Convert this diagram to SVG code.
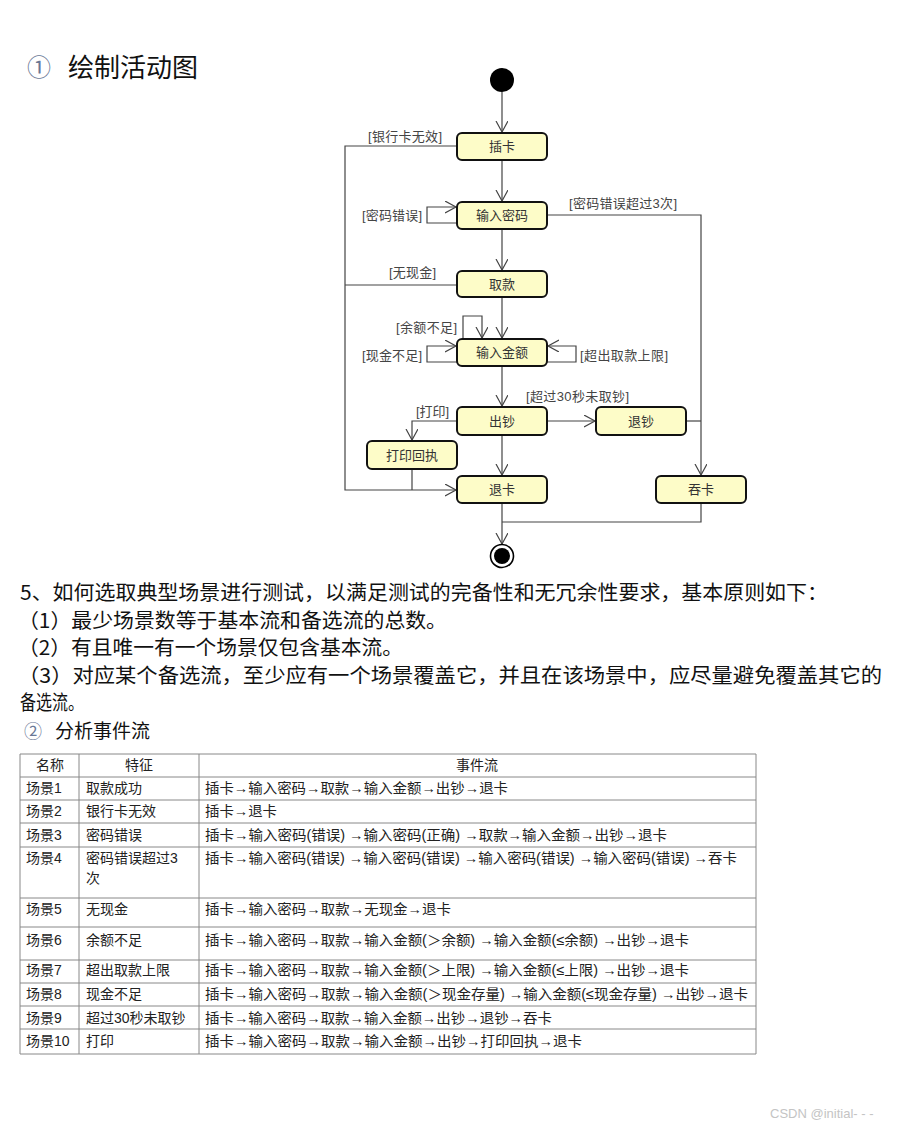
<svg xmlns="http://www.w3.org/2000/svg" width="904" height="1130" viewBox="0 0 904 1130">
<style>
.bg{fill:#ffffff}
.node rect{fill:#fdfcc8;stroke:#111;stroke-width:2}
.nt{font-family:"Liberation Sans","Noto Sans CJK SC",sans-serif;font-size:13px;fill:#333;text-anchor:middle}
.lb{font-family:"Liberation Sans","Noto Sans CJK SC",sans-serif;font-size:13px;fill:#444}
.conn path{fill:none;stroke:#444;stroke-width:1.2}
.para{font-family:"Noto Sans CJK SC",sans-serif;font-size:20px;fill:#111}
.tb{font-family:"Liberation Sans","Noto Sans CJK SC",sans-serif;font-size:14px;fill:#222}
.grid line{stroke:#888;stroke-width:1}
</style>
<defs>
<marker id="arr" markerUnits="userSpaceOnUse" markerWidth="14" markerHeight="14" refX="11" refY="6" orient="auto">
<path d="M0,0 L11,6 L0,12" fill="none" stroke="#444" stroke-width="1.2"/>
</marker>
</defs>
<rect class="bg" x="0" y="0" width="904" height="1130"/>

<g id="title">
<text x="27" y="76" font-family="Noto Sans CJK SC,sans-serif" font-size="24" fill="#6a7896">①</text>
<text x="68" y="77" font-family="Noto Sans CJK SC,sans-serif" font-size="26" fill="#111">绘制活动图</text>
</g>

<g id="connectors" class="conn">
<path d="M502,92 L502,132" marker-end="url(#arr)"/>
<path d="M502,160 L502,201" marker-end="url(#arr)"/>
<path d="M502,229 L502,270" marker-end="url(#arr)"/>
<path d="M502,297 L502,338" marker-end="url(#arr)"/>
<path d="M502,366 L502,406" marker-end="url(#arr)"/>
<path d="M502,435 L502,475" marker-end="url(#arr)"/>
<path d="M502,503 L502,544" marker-end="url(#arr)"/>
<path d="M457,146 L345,146 L345,490 L456,490" marker-end="url(#arr)"/>
<path d="M457,285 L345,285"/>
<path d="M457,223 L427,223 L427,207 L456,207" marker-end="url(#arr)"/>
<path d="M547,215 L701,215 L701,475" marker-end="url(#arr)"/>
<path d="M686,421 L701,421"/>
<path d="M701,503 L701,522 L502,522"/>
<path d="M463,339 L463,316 L482,316 L482,338" marker-end="url(#arr)"/>
<path d="M457,362 L427,362 L427,346 L456,346" marker-end="url(#arr)"/>
<path d="M547,362 L576,362 L576,346 L548,346" marker-end="url(#arr)"/>
<path d="M547,421 L595,421" marker-end="url(#arr)"/>
<path d="M457,421 L412,421 L412,440" marker-end="url(#arr)"/>
<path d="M412,469 L412,490"/>
</g>

<g id="labels">
<text class="lb" x="368" y="141" textLength="74">[银行卡无效]</text>
<text class="lb" x="362" y="220" textLength="60">[密码错误]</text>
<text class="lb" x="569" y="208" textLength="108">[密码错误超过3次]</text>
<text class="lb" x="389" y="277" textLength="47">[无现金]</text>
<text class="lb" x="396" y="332" textLength="61">[余额不足]</text>
<text class="lb" x="362" y="360" textLength="60">[现金不足]</text>
<text class="lb" x="580" y="360" textLength="88">[超出取款上限]</text>
<text class="lb" x="526" y="401" textLength="103">[超过30秒未取钞]</text>
<text class="lb" x="416" y="416" textLength="33">[打印]</text>
</g>

<g id="start"><circle cx="502" cy="80" r="12" fill="#000"/></g>
<g id="n-insert" class="node"><rect x="457" y="133" width="90" height="27" rx="5"/><text class="nt" x="502" y="151">插卡</text></g>
<g id="n-pwd" class="node"><rect x="457" y="202" width="90" height="27" rx="5"/><text class="nt" x="502" y="220">输入密码</text></g>
<g id="n-withdraw" class="node"><rect x="457" y="271" width="90" height="26" rx="5"/><text class="nt" x="502" y="289">取款</text></g>
<g id="n-amount" class="node"><rect x="457" y="339" width="90" height="27" rx="5"/><text class="nt" x="502" y="357">输入金额</text></g>
<g id="n-cash" class="node"><rect x="457" y="407" width="90" height="28" rx="5"/><text class="nt" x="502" y="426">出钞</text></g>
<g id="n-return-cash" class="node"><rect x="596" y="407" width="90" height="28" rx="5"/><text class="nt" x="641" y="426">退钞</text></g>
<g id="n-print" class="node"><rect x="367" y="441" width="90" height="28" rx="5"/><text class="nt" x="412" y="460">打印回执</text></g>
<g id="n-eject" class="node"><rect x="457" y="476" width="90" height="27" rx="5"/><text class="nt" x="502" y="494">退卡</text></g>
<g id="n-swallow" class="node"><rect x="656" y="476" width="90" height="27" rx="5"/><text class="nt" x="701" y="494">吞卡</text></g>
<g id="end"><circle cx="502" cy="556" r="11.5" fill="#fff" stroke="#000" stroke-width="1.6"/><circle cx="502" cy="556" r="8" fill="#000"/></g>

<g id="paragraph">
<text class="para" x="20" y="600" textLength="808" lengthAdjust="spacingAndGlyphs">5、如何选取典型场景进行测试，以满足测试的完备性和无冗余性要求，基本原则如下：</text>
<text class="para" x="18" y="628" textLength="429" lengthAdjust="spacingAndGlyphs">（1）最少场景数等于基本流和备选流的总数。</text>
<text class="para" x="18" y="655" textLength="385" lengthAdjust="spacingAndGlyphs">（2）有且唯一有一个场景仅包含基本流。</text>
<text class="para" x="18" y="683" textLength="864" lengthAdjust="spacingAndGlyphs">（3）对应某个备选流，至少应有一个场景覆盖它，并且在该场景中，应尽量避免覆盖其它的</text>
<text class="para" x="20" y="710" textLength="64" lengthAdjust="spacingAndGlyphs">备选流。</text>
</g>

<g id="subtitle">
<text x="24" y="738" font-family="Noto Sans CJK SC,sans-serif" font-size="18" fill="#6a7896">②</text>
<text x="55" y="738" font-family="Noto Sans CJK SC,sans-serif" font-size="19" fill="#111">分析事件流</text>
</g>

<g id="table">
<g class="grid">
<line x1="20" y1="754" x2="756" y2="754"/>
<line x1="20" y1="777" x2="756" y2="777"/>
<line x1="20" y1="800" x2="756" y2="800"/>
<line x1="20" y1="823" x2="756" y2="823"/>
<line x1="20" y1="847" x2="756" y2="847"/>
<line x1="20" y1="898" x2="756" y2="898"/>
<line x1="20" y1="927" x2="756" y2="927"/>
<line x1="20" y1="960" x2="756" y2="960"/>
<line x1="20" y1="983" x2="756" y2="983"/>
<line x1="20" y1="1006" x2="756" y2="1006"/>
<line x1="20" y1="1029" x2="756" y2="1029"/>
<line x1="20" y1="1054" x2="756" y2="1054"/>
<line x1="20" y1="754" x2="20" y2="1054"/>
<line x1="79" y1="754" x2="79" y2="1054"/>
<line x1="199" y1="754" x2="199" y2="1054"/>
<line x1="756" y1="754" x2="756" y2="1054"/>
</g>
<text class="tb" x="50" y="770" text-anchor="middle">名称</text>
<text class="tb" x="139" y="770" text-anchor="middle">特征</text>
<text class="tb" x="477" y="770" text-anchor="middle">事件流</text>

<text class="tb" x="26" y="793">场景1</text>
<text class="tb" x="86" y="793">取款成功</text>
<text class="tb" x="205" y="793" textLength="303" lengthAdjust="spacingAndGlyphs">插卡→输入密码→取款→输入金额→出钞→退卡</text>

<text class="tb" x="26" y="816">场景2</text>
<text class="tb" x="86" y="816">银行卡无效</text>
<text class="tb" x="205" y="816" textLength="72" lengthAdjust="spacingAndGlyphs">插卡→退卡</text>

<text class="tb" x="26" y="840">场景3</text>
<text class="tb" x="86" y="840">密码错误</text>
<text class="tb" x="205" y="840" textLength="462" lengthAdjust="spacingAndGlyphs">插卡→输入密码(错误) →输入密码(正确) →取款→输入金额→出钞→退卡</text>

<text class="tb" x="26" y="863">场景4</text>
<text class="tb" x="86" y="863">密码错误超过3</text>
<text class="tb" x="86" y="883">次</text>
<text class="tb" x="205" y="863" textLength="532" lengthAdjust="spacingAndGlyphs">插卡→输入密码(错误) →输入密码(错误) →输入密码(错误) →输入密码(错误) →吞卡</text>

<text class="tb" x="26" y="914">场景5</text>
<text class="tb" x="86" y="914">无现金</text>
<text class="tb" x="205" y="914" textLength="246" lengthAdjust="spacingAndGlyphs">插卡→输入密码→取款→无现金→退卡</text>

<text class="tb" x="26" y="945">场景6</text>
<text class="tb" x="86" y="945">余额不足</text>
<text class="tb" x="205" y="945" textLength="484" lengthAdjust="spacingAndGlyphs">插卡→输入密码→取款→输入金额(＞余额) →输入金额(≤余额) →出钞→退卡</text>

<text class="tb" x="26" y="975">场景7</text>
<text class="tb" x="86" y="975">超出取款上限</text>
<text class="tb" x="205" y="975" textLength="484" lengthAdjust="spacingAndGlyphs">插卡→输入密码→取款→输入金额(＞上限) →输入金额(≤上限) →出钞→退卡</text>

<text class="tb" x="26" y="999">场景8</text>
<text class="tb" x="86" y="999">现金不足</text>
<text class="tb" x="205" y="999" textLength="543" lengthAdjust="spacingAndGlyphs">插卡→输入密码→取款→输入金额(＞现金存量) →输入金额(≤现金存量) →出钞→退卡</text>

<text class="tb" x="26" y="1023">场景9</text>
<text class="tb" x="86" y="1023">超过30秒未取钞</text>
<text class="tb" x="205" y="1023" textLength="347" lengthAdjust="spacingAndGlyphs">插卡→输入密码→取款→输入金额→出钞→退钞→吞卡</text>

<text class="tb" x="26" y="1046">场景10</text>
<text class="tb" x="86" y="1046">打印</text>
<text class="tb" x="205" y="1046" textLength="377" lengthAdjust="spacingAndGlyphs">插卡→输入密码→取款→输入金额→出钞→打印回执→退卡</text>
</g>

<g id="watermark">
<text x="770" y="1118" font-family="Liberation Sans,sans-serif" font-size="13" fill="#c4c4c4">CSDN @initial- - -</text>
</g>
</svg>
